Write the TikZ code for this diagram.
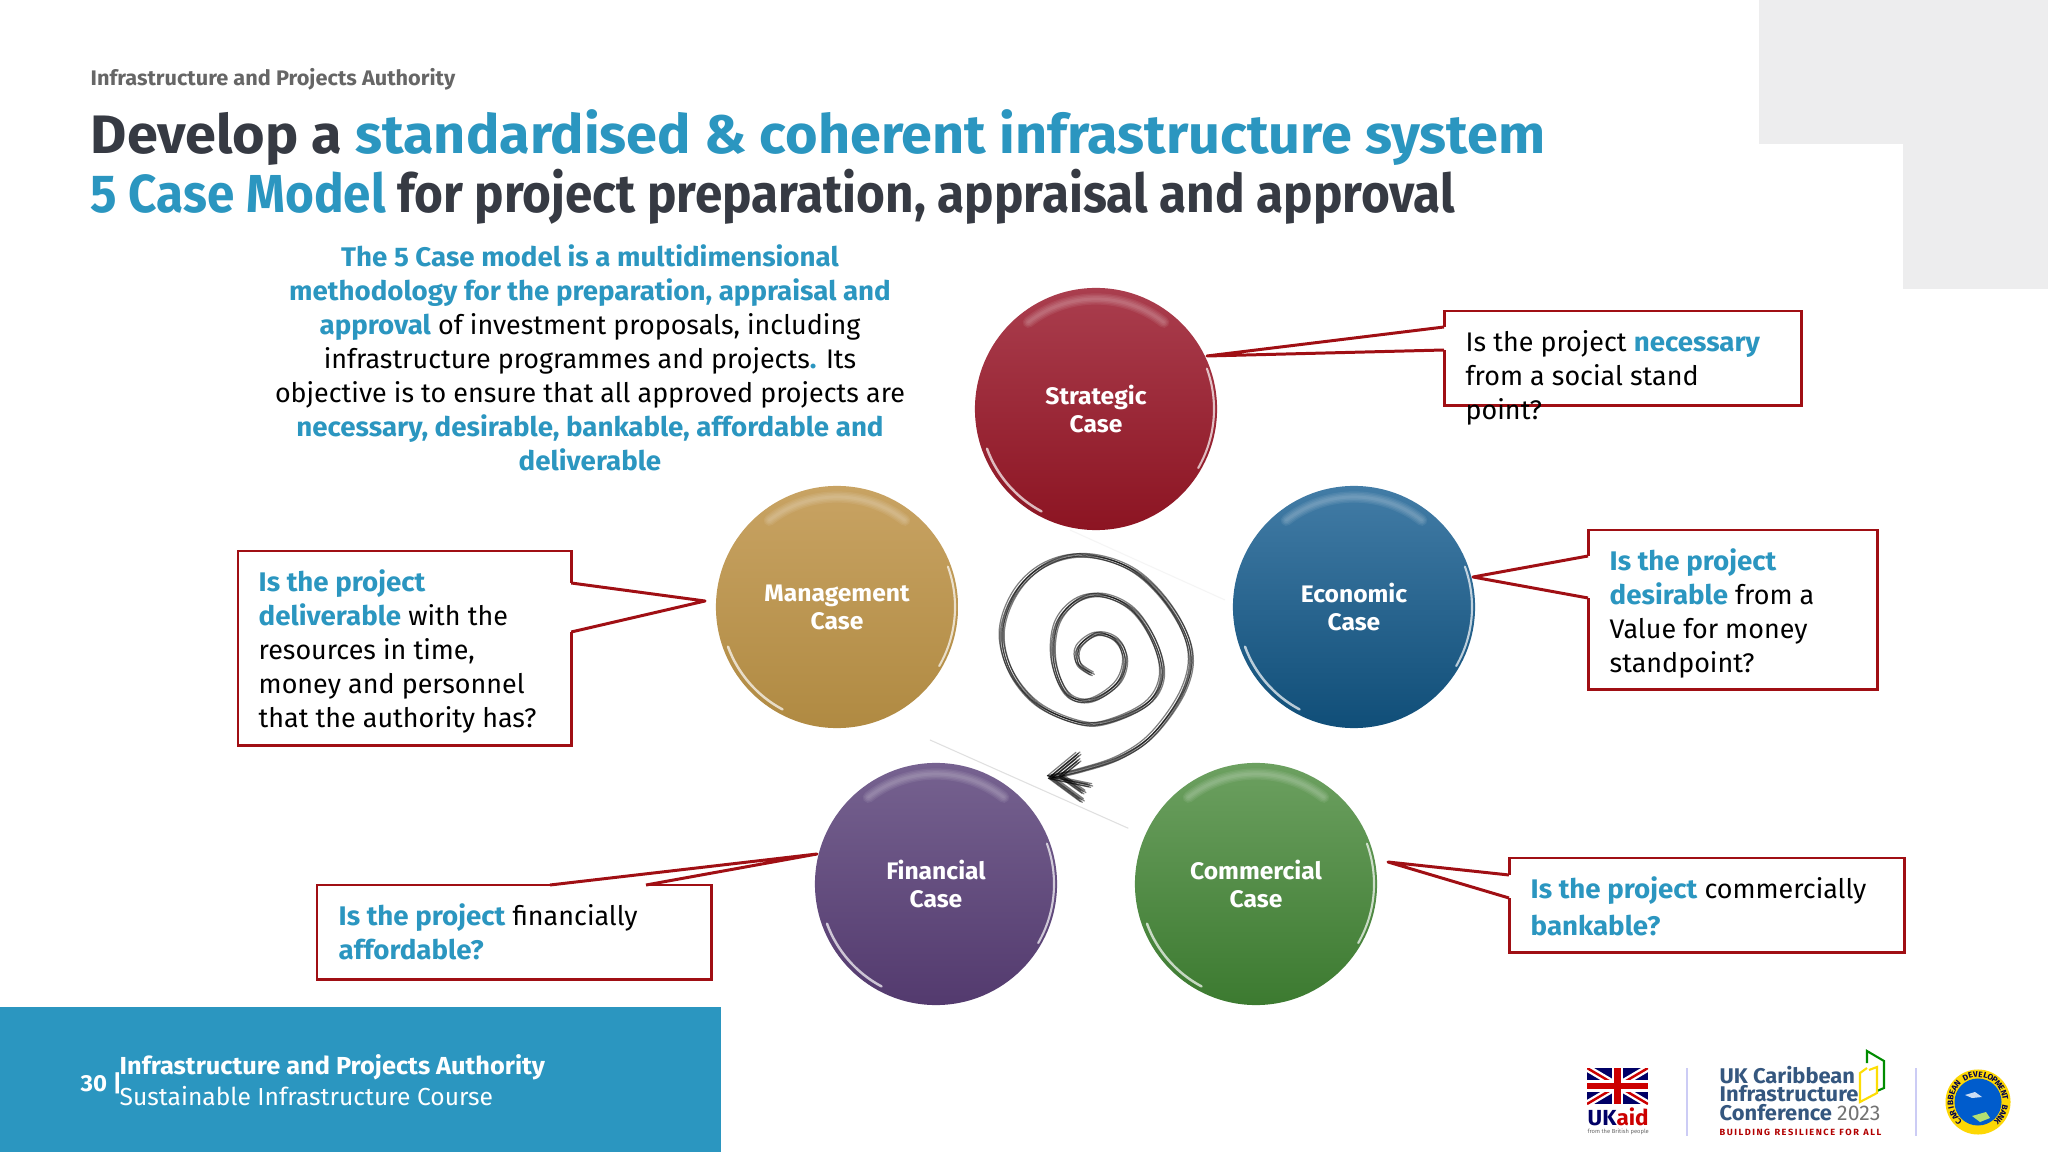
\documentclass[tikz,border=0pt]{standalone}
\usepackage{fontspec}
\setmainfont{Fira Sans}[BoldFeatures={FakeStretch=1.03}]
\newfontfamily\headfont{Fira Sans}[FakeStretch=0.925]
\usepackage{amsmath}
\usepackage{tikz}
\usetikzlibrary{calc}
\definecolor{accent}{HTML}{2B96C0}
\definecolor{titledark}{HTML}{363A43}
\definecolor{tailred}{HTML}{A00F14}
\definecolor{panelgrey}{HTML}{EDEDEE}
\definecolor{confblue}{HTML}{35577F}
\newcommand{\keyword}[1]{\textbf{\textcolor{accent}{#1}}}

\begin{document}
\begin{tikzpicture}[x=0.01cm, y=-0.01cm,
    main/.style={circle, minimum size=2.42cm, inner sep=0pt, align=center, text=white, font=\fontsize{6.8pt}{8pt}\selectfont\bfseries},
    box/.style={rectangle, draw=tailred, line width=0.85pt, anchor=north west, fill=white, outer sep=0pt},
    tail/.style={draw=tailred, line width=0.85pt, fill=white, line join=round},
    gap/.style={white, line width=1.4pt},
    info/.style={anchor=north west, inner sep=0pt, align=left, font=\fontsize{7.65pt}{9.65pt}\selectfont},
    heading/.style={anchor=base west, inner sep=0pt, font=\fontsize{15.2pt}{17pt}\headfont\bfseries, text=titledark},
    foot/.style={anchor=base west, inner sep=0pt, text=white, font=\fontsize{7pt}{8pt}\selectfont},
    conf/.style={anchor=base west, inner sep=0pt, text=confblue, font=\fontsize{6.05pt}{7pt}\selectfont\bfseries},
    sketch/.style={line width=0.35pt, line cap=round, opacity=0.5}]
    \useasboundingbox (0,0) rectangle (2048,1152);
    \fill[white] (0,0) rectangle (2048,1152);
    % grey corner
    \fill[panelgrey] (1759,0) -- (2048,0) -- (2048,289) -- (1903,289) -- (1903,144) -- (1759,144) -- cycle;
    % heading
    \node[anchor=base west, inner sep=0pt, text=black!60, font=\fontsize{6pt}{7pt}\selectfont\bfseries] (org) at (90,86) {Infrastructure and Projects Authority};
    \node[heading, font=\fontsize{15.4pt}{17pt}\selectfont\bfseries] (titlea) at (90,154) {Develop a \textcolor{accent}{standardised \& coherent infrastructure system}};
    \node[heading] (titleb) at (90,213) {\textcolor{accent}{5 Case Model} for project preparation, appraisal and approval};
    \node[anchor=north, inner sep=0pt, align=center, font=\fontsize{7.65pt}{9.65pt}\selectfont] (summary) at (590,244) {\keyword{The 5 Case model is a multidimensional}\\\keyword{methodology for the preparation, appraisal and}\\\keyword{approval} of investment proposals, including\\infrastructure programmes and projects\keyword{.} Its\\objective is to ensure that all approved projects are\\\keyword{necessary, desirable, bankable, affordable and}\\\keyword{deliverable}};
    % spiral
    \begin{scope}[shift={(920,500)}, scale=0.3333]
        \draw[black!12, line width=0.3pt] (30,720) -- (625,985);
        \draw[black!4, line width=0.3pt] (450,90) -- (915,300);
        \foreach \dx/\dy in {0/0, 5/-4, -4/5, 8/3, -7/-3, 2/7} {
            \draw[sketch, shift={(\dx,\dy)}] plot[smooth, tension=0.6] coordinates {(515,520) (475,490) (475,440) (530,400) (590,420) (615,480) (590,550) (510,600) (440,580) (400,480) (410,370) (470,300) (550,285) (640,330) (705,430) (725,530) (680,610) (560,665) (470,665) (350,610) (270,510) (245,390) (290,270) (380,190) (500,165) (640,210) (750,320) (810,450) (790,570) (700,700) (600,770) (480,810) (390,830)};
            \draw[sketch, shift={(\dx,\dy)}] (475,760) -- (390,830) -- (485,900);
            \draw[sketch, shift={(\dx,\dy)}] (390,830) -- (510,855);
            \draw[sketch, shift={(\dx,\dy)}] (475,780) -- (420,825) -- (490,875);
        }
    \end{scope}
    % circles
    \node[main, shading=axis, top color={rgb,255:red,170;green,62;blue,78}, middle color={rgb,255:red,165;green,30;blue,46}, bottom color={rgb,255:red,140;green,20;blue,34}] (strategic) at (1096,409) {Strategic\\Case};
    \node[main, shading=axis, top color={rgb,255:red,66;green,124;blue,166}, middle color={rgb,255:red,28;green,90;blue,135}, bottom color={rgb,255:red,16;green,78;blue,120}] (economic) at (1354,607) {Economic\\Case};
    \node[main, shading=axis, top color={rgb,255:red,108;green,160;blue,96}, middle color={rgb,255:red,80;green,142;blue,70}, bottom color={rgb,255:red,60;green,122;blue,48}] (commercial) at (1256,884) {Commercial\\Case};
    \node[main, shading=axis, top color={rgb,255:red,118;green,98;blue,144}, middle color={rgb,255:red,94;green,67;blue,120}, bottom color={rgb,255:red,83;green,58;blue,110}] (financial) at (936,884) {Financial\\Case};
    \node[main, shading=axis, top color={rgb,255:red,200;green,163;blue,99}, middle color={rgb,255:red,190;green,149;blue,80}, bottom color={rgb,255:red,176;green,138;blue,66}] (management) at (837,607) {Management\\Case};
    \foreach \c in {strategic, economic, commercial, financial, management} {
        \foreach \w in {0.8, 1.6, 2.4, 3.2} {
            \draw[white, opacity=0.07, line width=\w pt, line cap=round] ($(\c.center)+(232:110)$) arc[start angle=232, end angle=308, radius=110];
        }
        \draw[white, opacity=0.7, line width=0.7pt, line cap=round] ($(\c.center)+(118:116)$) arc[start angle=118, end angle=160, radius=116];
        \draw[white, opacity=0.7, line width=0.6pt, line cap=round] ($(\c.center)+(-20:118)$) arc[start angle=-20, end angle=30, radius=118];
    }
    % boxes
    \node[box, minimum width=3.57cm, minimum height=0.94cm] (strategicbox) at (1444,311) {};
    \node[box, minimum width=2.89cm, minimum height=1.59cm] (economicbox) at (1588,530) {};
    \node[box, minimum width=3.95cm, minimum height=0.94cm] (commercialbox) at (1509,858) {};
    \node[box, minimum width=3.94cm, minimum height=0.94cm] (financialbox) at (317,885) {};
    \node[box, minimum width=3.33cm, minimum height=1.94cm] (managementbox) at (238,551) {};
    % tails
    \coordinate (strategictip) at (1207,356);
    \coordinate (economictip) at (1473,577);
    \coordinate (commercialtip) at (1388,862);
    \coordinate (financialtip) at (817,854);
    \coordinate (managementtip) at (705,601);
    \draw[gap] ($(strategicbox.north west)+(0,16)$) -- ($(strategicbox.north west)+(0,39)$);
    \draw[tail] ($(strategicbox.north west)+(0,16)$) -- (strategictip) -- ($(strategicbox.north west)+(0,39)$);
    \draw[gap] ($(economicbox.north west)+(0,26)$) -- ($(economicbox.north west)+(0,68)$);
    \draw[tail] ($(economicbox.north west)+(0,26)$) -- (economictip) -- ($(economicbox.north west)+(0,68)$);
    \draw[gap] ($(commercialbox.north west)+(0,17)$) -- ($(commercialbox.north west)+(0,40)$);
    \draw[tail] ($(commercialbox.north west)+(0,17)$) -- (commercialtip) -- ($(commercialbox.north west)+(0,40)$);
    \draw[gap] ($(financialbox.north west)+(233,0)$) -- ($(financialbox.north west)+(329,0)$);
    \draw[tail] ($(financialbox.north west)+(233,0)$) -- (financialtip) -- ($(financialbox.north west)+(329,0)$);
    \draw[gap] ($(managementbox.north east)+(0,32)$) -- ($(managementbox.north east)+(0,81)$);
    \draw[tail] ($(managementbox.north east)+(0,32)$) -- (managementtip) -- ($(managementbox.north east)+(0,81)$);
    % box texts
    \node[info] (strategictext) at (1465,330) {Is the project \keyword{necessary}\\from a social stand\\point?};
    \node[info] (economictext) at (1609,548) {\keyword{Is the project}\\\keyword{desirable} from a\\Value for money\\standpoint?};
    \node[info] (commercialtext) at (1530,876) {\keyword{Is the project} commercially\\[1pt]\keyword{bankable?}};
    \node[info] (financialtext) at (338,903) {\keyword{Is the project} financially\\\keyword{affordable?}};
    \node[info] (managementtext) at (258,569) {\keyword{Is the project}\\\keyword{deliverable} with the\\resources in time,\\money and personnel\\that the authority has?};
    % footer
    \fill[accent] (0,1007) rectangle (721,1152);
    \node[foot, font=\fontsize{6.6pt}{8pt}\selectfont\bfseries] (pagenum) at (80,1091) {30 |};
    \node[foot, font=\fontsize{7pt}{8pt}\selectfont\bfseries] (footorg) at (119,1074) {Infrastructure and Projects Authority};
    \node[foot] (footcourse) at (119,1105) {Sustainable Infrastructure Course};
    % logos
    \begin{scope}
        \clip (1587,1068) rectangle (1648,1104);
        \fill[blue!40!black] (1587,1068) rectangle (1648,1104);
        \draw[white, line width=2pt] (1587,1068) -- (1648,1104) (1587,1104) -- (1648,1068);
        \draw[red!80!black, line width=0.7pt] (1587,1068) -- (1648,1104) (1587,1104) -- (1648,1068);
        \draw[white, line width=3.2pt] (1617.5,1068) -- (1617.5,1104) (1587,1086) -- (1648,1086);
        \draw[red!80!black, line width=1.9pt] (1617.5,1068) -- (1617.5,1104) (1587,1086) -- (1648,1086);
    \end{scope}
    \node[anchor=base west, inner sep=0pt, text=blue!40!black, font=\fontsize{6.2pt}{7pt}\selectfont\bfseries] (ukaid) at (1587,1125) {UK\textcolor{red!80!black}{aid}};
    \node[anchor=base west, inner sep=0pt, text=black!60, font=\fontsize{1.65pt}{2pt}\selectfont] (ukaidline) at (1587,1133) {from the British people};
    \draw[black!20!blue!20, line width=0.4pt] (1687,1068) -- (1687,1136);
    \draw[black!20!blue!20, line width=0.4pt] (1916,1068) -- (1916,1136);
    \node[conf] (confa) at (1719,1083) {UK Caribbean};
    \node[conf] (confb) at (1719,1101) {Infrastructure};
    \node[conf] (confc) at (1719,1120) {Conference \textcolor{black!55}{\mdseries 2023}};
    \node[conf, text=red!70!black, font=\fontsize{2.55pt}{3pt}\selectfont\bfseries] (confd) at (1719,1135) {B\,U\,I\,L\,D\,I\,N\,G\ \ R\,E\,S\,I\,L\,I\,E\,N\,C\,E\ \ F\,O\,R\ \ A\,L\,L};
    \draw[green!55!black, line width=0.6pt] (1867,1063) -- (1867,1051) -- (1884,1061) -- (1884,1088) -- (1877,1091);
    \draw[yellow!80!orange, line width=0.6pt] (1867,1068) -- (1860,1073) -- (1860,1102) -- (1877,1093) -- (1877,1067) -- (1869,1070);
    \node[circle, fill=yellow!75!orange, minimum size=0.65cm, inner sep=0pt] (cdbrim) at (1978,1102) {};
    \node[circle, fill=blue!55!cyan!80!black, minimum size=0.47cm, inner sep=0pt] (cdbmap) at (1978,1102) {};
    \fill[white, opacity=0.8] (1965,1095) -- (1975,1092) -- (1982,1097) -- (1972,1098) -- cycle;
    \fill[yellow!50!green!60!white] (1972,1116) -- (1986,1112) -- (1990,1118) -- (1980,1122) -- cycle;
    \foreach \ch [count=\i] in {C,A,R,I,B,B,E,A,N,{},D,E,V,E,L,O,P,M,E,N,T,{},B,A,N,K} {
        \pgfmathsetmacro{\a}{225-10.8*(\i-1)}
        \node[inner sep=0pt, text=blue!30!black, rotate=\a-90, font=\fontsize{2.3pt}{3pt}\selectfont\bfseries] at ($(cdbrim.center)+({-\a}:27.5)$) {\ch};
    }
\end{tikzpicture}
\end{document}
